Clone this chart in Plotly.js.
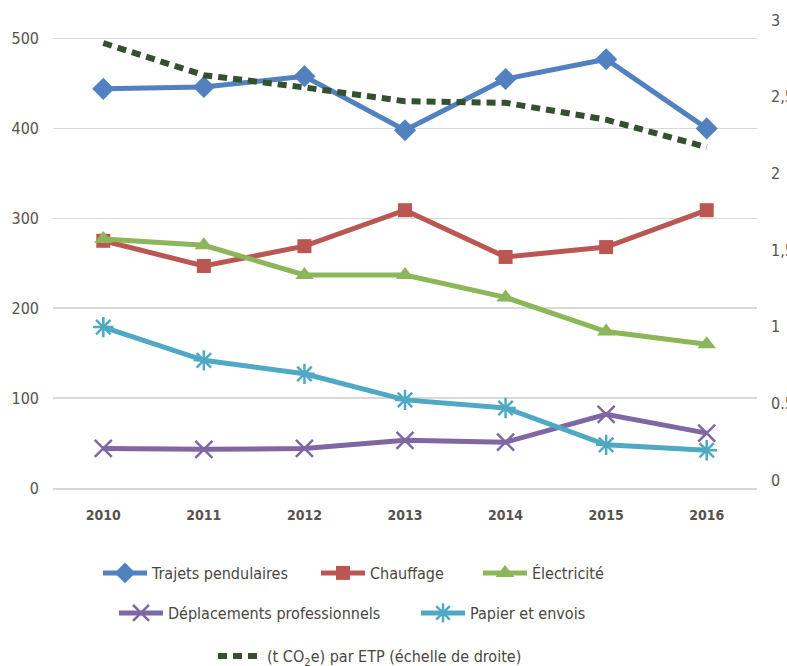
<!DOCTYPE html>
<html>
<head>
<meta charset="utf-8">
<script src="https://cdn.plot.ly/plotly-3.0.1.min.js"></script>
<style>
html,body{margin:0;padding:0;background:#fff;}
#chart{width:787px;height:666px;}
</style>
</head>
<body>
<div id="chart"></div>
<script>
const years = ['2010','2011','2012','2013','2014','2015','2016'];
const trajets = [444, 446, 458, 398, 455, 477, 400];
const chauffage = [275, 247, 269, 309, 257, 268, 309];
const electricite = [277, 270, 237, 237, 212, 174, 160];
const deplacements = [44, 43, 44, 53, 51, 82, 61];
const papier = [179, 142, 127, 98, 89, 48, 42];
const parEtp = [2.85, 2.64, 2.56, 2.47, 2.46, 2.35, 2.17];
const leftTicks = [0, 100, 200, 300, 400, 500];
const rightTickVals = [0, 0.5, 1, 1.5, 2, 2.5, 3];
const rightTickText = ['0', '0.5', '1', '1,5', '2', '2,5', '3'];

const FONT = "'Liberation Sans Narrow', 'DejaVu Sans Condensed', 'Roboto', sans-serif";
const TXT = '#57524e';

function series(name, y, color, symbol, msize, legend, mline) {
  return {
    x: years, y: y, name: name, type: 'scatter', mode: 'lines+markers',
    line: {color: color, width: 5},
    marker: {symbol: symbol, size: msize, color: color, line: mline || {width: 0}},
    legend: legend
  };
}

const traces = [
  series('Trajets pendulaires', trajets, '#5181bf', 'diamond', 17, 'legend'),
  series('Chauffage', chauffage, '#ba5753', 'square', 14, 'legend2'),
  series('Électricité', electricite, '#8db55a', 'triangle-up', 16, 'legend3'),
  series('Déplacements professionnels', deplacements, '#7f67a3', 'x-thin-open', 17, 'legend4', {color: '#7f67a3', width: 2.5}),
  series('Papier et envois', papier, '#4fa9c4', 'asterisk-open', 17, 'legend5', {color: '#4fa9c4', width: 2.5}),
  {
    x: years, y: parEtp, name: '(t CO<sub>2</sub>e) par ETP (échelle de droite)',
    type: 'scatter', mode: 'lines', yaxis: 'y2',
    line: {color: '#33502f', width: 6, dash: '9px,6px'},
    legend: 'legend6'
  }
];

const PLOT_L = 53, PLOT_W = 704, PLOT_B = 488, PLOT_H = 468;
function leg(px, py) {
  return {
    orientation: 'h', xanchor: 'left', yanchor: 'middle',
    x: (px - PLOT_L) / PLOT_W, y: (PLOT_B - py) / PLOT_H,
    font: {family: FONT, size: 16, color: '#4a4643'},
    itemwidth: 44, bgcolor: 'rgba(0,0,0,0)', borderwidth: 0
  };
}

const layout = {
  width: 787, height: 666,
  margin: {l: 53, r: 30, t: 20, b: 178, autoexpand: false},
  paper_bgcolor: '#ffffff', plot_bgcolor: '#ffffff',
  font: {family: FONT, color: TXT},
  showlegend: true,
  xaxis: {
    type: 'category', range: [-0.5, 6.5],
    showgrid: false, zeroline: false,
    showline: true, linecolor: '#d9d9d9', linewidth: 1.5,
    ticks: '', ticklabelstandoff: 14,
    tickfont: {family: FONT, size: 14, color: TXT, weight: 'bold'}
  },
  yaxis: {
    range: [0, 520.6], tickvals: leftTicks,
    showgrid: true, gridcolor: '#d9d9d9', gridwidth: 1.5,
    zeroline: false, showline: false, ticks: '', ticklabelstandoff: 13,
    tickfont: {family: FONT, size: 16, color: TXT}
  },
  yaxis2: {
    overlaying: 'y', side: 'right', range: [-0.052, 3],
    tickvals: rightTickVals, ticktext: rightTickText,
    showgrid: false, zeroline: false, showline: false, ticks: '', ticklabelstandoff: 13,
    tickfont: {family: FONT, size: 16, color: TXT}
  },
  legend: leg(98, 573),
  legend2: leg(316, 573),
  legend3: leg(478, 573),
  legend4: leg(114, 613),
  legend5: leg(416, 613),
  legend6: leg(213, 656)
};

Plotly.newPlot('chart', traces, layout, {displayModeBar: false, staticPlot: true});
</script>
</body>
</html>
